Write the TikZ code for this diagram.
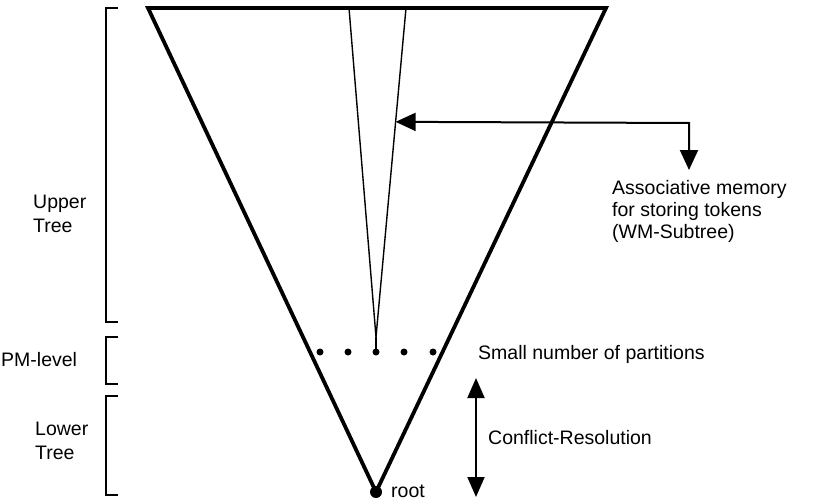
\documentclass[tikz,border=0pt]{standalone}
\usepackage{fontspec}
\setmainfont{Liberation Sans}
\usetikzlibrary{arrows.meta,calc}
\begin{document}
\begin{tikzpicture}[x=1pt,y=-1pt,
  lbl/.style={font=\fontsize{19.5}{22}\selectfont, inner sep=0pt, anchor=base west},
  outer/.style={line width=3.8pt, line join=miter},
  inner/.style={line width=1.4pt},
  bracket/.style={line width=1.6pt},
  arr/.style={line width=2pt, arrows={Triangle[length=20pt,width=18pt]-Triangle[length=20pt,width=18pt]}},
  dot/.style={circle, fill, inner sep=0pt, minimum size=7pt},
  rootdot/.style={circle, fill, inner sep=0pt, minimum size=12pt}]
\useasboundingbox (0,0) rectangle (832,500);

% outer tree
\coordinate (tl) at (148,8);
\coordinate (tr) at (606,8);
\node[rootdot] (root) at (376,492) {};
\draw[outer] (tl) -- (tr) -- (root.center) -- cycle;

% partitions at the PM level
\node[dot] (p1) at (320,352) {};
\node[dot] (p2) at (348,352) {};
\node[dot] (p3) at (376,352) {};
\node[dot] (p4) at (404,352) {};
\node[dot] (p5) at (433,352) {};

% WM subtree
\coordinate (iL) at (349,8);
\coordinate (iR) at (406,8);
\coordinate (apex) at (376,337);
\draw[inner] (iL) -- (apex) -- (iR);
\draw[inner] (apex) -- (p3.center);

% arrow to the associative memory label
\coordinate (wmtip) at ($(iR)!0.346!(apex)$);
\coordinate (wmcorner) at (689,123);
\coordinate (wmdown) at (689,170);
\draw[arr] (wmtip) -- (wmcorner) -- (wmdown);

\node[lbl] (am1) at (612,194) {Associative memory};
\node[lbl] (am2) at (612,216) {for storing tokens};
\node[lbl] (am3) at (612,238) {(WM-Subtree)};

% brackets on the left
\draw[bracket] (118,8) -- (106,8) -- (106,322) -- (118,322);
\draw[bracket] (118,337) -- (106,337) -- (106,384) -- (118,384);
\draw[bracket] (118,396) -- (106,396) -- (106,495) -- (118,495);

\node[lbl] (up1) at (33,208) {Upper};
\node[lbl] (up2) at (33,232) {Tree};
\node[lbl] (pm) at (1,366) {PM-level};
\node[lbl] (lo1) at (35,435) {Lower};
\node[lbl] (lo2) at (35,459) {Tree};

% right-hand labels
\node[lbl] (small) at (478,359) {Small number of partitions};
\coordinate (cr1) at (476,378);
\coordinate (cr2) at (476,497);
\draw[line width=2pt, arrows={Triangle[length=20pt,width=17pt]-Triangle[length=20pt,width=17pt]}] (cr1) -- (cr2);
\node[lbl] (conf) at (488,444) {Conflict-Resolution};
\node[lbl] (rootlbl) at (391,497) {root};
\end{tikzpicture}
\end{document}
